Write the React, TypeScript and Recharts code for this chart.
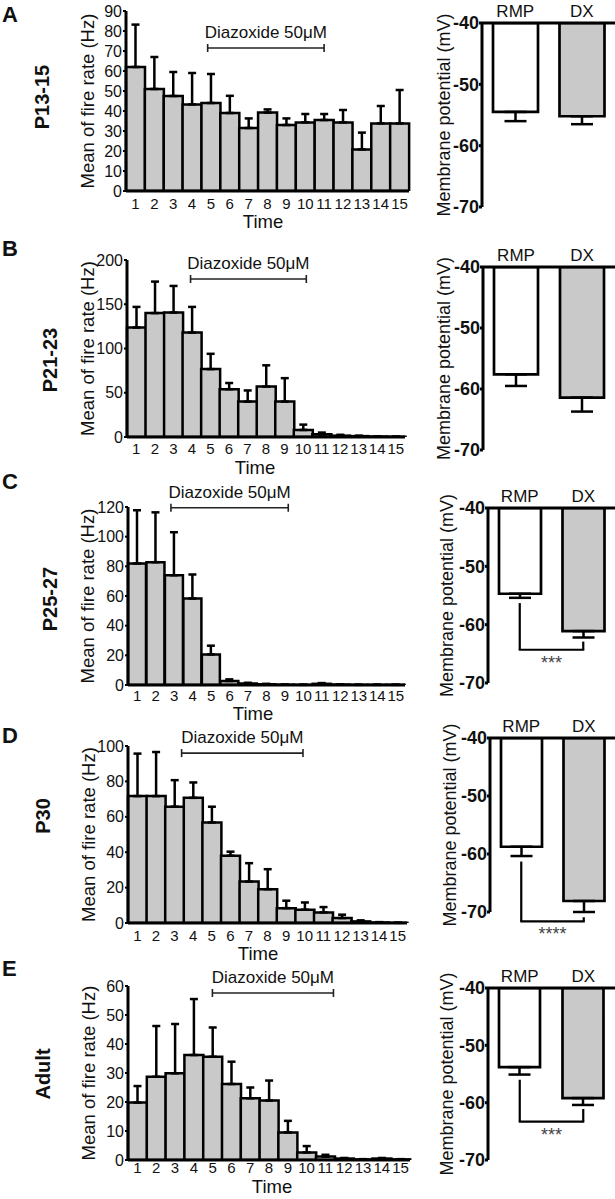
import React from 'react';
import { BarChart, Bar, XAxis, YAxis, ErrorBar, ReferenceLine, Cell } from 'recharts';

// ---------- data ----------
const TIME = ['1', '2', '3', '4', '5', '6', '7', '8', '9', '10', '11', '12', '13', '14', '15'];

const P13_MEAN = [62, 51, 47.5, 43.3, 44, 39, 31.5, 39.2, 33, 34.3, 35.5, 34.3, 20.8, 33.8, 33.8];
const P13_SEM = [21.2, 16, 12, 15.7, 14.5, 8.6, 4.8, 1.6, 3.3, 4.2, 3, 6.2, 8.4, 8.7, 16.7];

const P21_MEAN = [123.7, 140, 140.6, 118, 76.7, 54, 40, 57, 40, 8, 3, 1.5, 1, 0.5, 0.3];
const P21_SEM = [23.3, 35.6, 30.1, 29, 17.3, 7, 12.6, 24, 26.5, 6, 2, 1, 0.5, 0.3, 0.2];

const P25_MEAN = [81.9, 82.8, 74, 58.3, 20.6, 2.7, 1, 0.5, 0.2, 0.1, 0.8, 0.3, 0.1, 0.1, 0.1];
const P25_SEM = [35.9, 33.6, 29, 16.2, 5.9, 1.1, 0.5, 0.3, 0.1, 0.1, 0.5, 0.2, 0.1, 0.1, 0.1];

const P30_MEAN = [71.7, 71.7, 65.7, 70.7, 56.8, 38, 23.4, 19.1, 8.4, 7.5, 6, 2.8, 0.9, 0.3, 0.1];
const P30_SEM = [24, 24.9, 15, 8.7, 8.9, 2.3, 10.4, 11.3, 4.2, 4.1, 3, 1.9, 0.6, 0.2, 0.1];

const ADULT_MEAN = [19.8, 28.7, 29.9, 36.2, 35.6, 26.2, 21.3, 20.5, 9.5, 2.6, 1.2, 0.5, 0.2, 0.5, 0.2];
const ADULT_SEM = [5.7, 17.5, 17, 19.3, 10.1, 7.7, 3.7, 6.9, 4, 2.2, 0.6, 0.2, 0.1, 0.2, 0.1];

const GROUPS = ['RMP', 'DX'];
const P13_MP = [-54.5, -55.2];
const P13_MP_SEM = [1.5, 1.3];
const P21_MP = [-57.6, -61.4];
const P21_MP_SEM = [1.9, 2.3];
const P25_MP = [-54.7, -61.1];
const P25_MP_SEM = [0.7, 1.1];
const P30_MP = [-58.75, -68.1];
const P30_MP_SEM = [1.6, 1.9];
const ADULT_MP = [-53.8, -59.2];
const ADULT_MP_SEM = [1.3, 1.2];

const MP_TICKS = [-70, -60, -50, -40];

const PANEL_LETTERS = ['A', 'B', 'C', 'D', 'E'];
const AGE_LABELS = ['P13-15', 'P21-23', 'P25-27', 'P30', 'Adult'];

const FONT = '"Liberation Sans", Arial, Helvetica, sans-serif';
const GRAY = '#c9c9c9';
const INK = '#111';

const buildFire = (mean: number[], sem: number[]) =>
  TIME.map((t, i) => ({ t, v: mean[i], e: [0, sem[i]] }));
const buildMp = (vals: number[], sems: number[]) =>
  GROUPS.map((g, i) => ({ g, v: vals[i], e: [sems[i], 0] }));

// ---------- layout configs ----------
const FIRE = [
  { plotLeft: 126, plotRight: 409, plotTop: 11, plotBottom: 191, yMax: 90, yTicks: [0, 10, 20, 30, 40, 50, 60, 70, 80, 90], data: buildFire(P13_MEAN, P13_SEM), diaz: [4.04, 9.8, 71.5], tickGap: 7, timeX: 263, timeBase: 228, yLabelX: 87 },
  { plotLeft: 127, plotRight: 405, plotTop: 260, plotBottom: 437, yMax: 200, yTicks: [0, 50, 100, 150, 200], data: buildFire(P21_MEAN, P21_SEM), diaz: [3.2, 9.03, 178.5], tickGap: 6, timeX: 255, timeBase: 474, yLabelX: 87 },
  { plotLeft: 128, plotRight: 405, plotTop: 507, plotBottom: 685, yMax: 120, yTicks: [0, 20, 40, 60, 80, 100, 120], data: buildFire(P25_MEAN, P25_SEM), diaz: [2.17, 8.1, 119.5], tickGap: 5, timeX: 253, timeBase: 720, yLabelX: 87 },
  { plotLeft: 128, plotRight: 407, plotTop: 746, plotBottom: 923, yMax: 100, yTicks: [0, 20, 40, 60, 80, 100], data: buildFire(P30_MEAN, P30_SEM), diaz: [2.69, 8.78, 96], tickGap: 7, timeX: 258, timeBase: 960, yLabelX: 88 },
  { plotLeft: 128, plotRight: 410, plotTop: 986, plotBottom: 1160, yMax: 60, yTicks: [0, 10, 20, 30, 40, 50, 60], data: buildFire(ADULT_MEAN, ADULT_SEM), diaz: [4.19, 10.2, 57.6], tickGap: 2, timeX: 272, timeBase: 1192.5, yLabelX: 88 },
];

const MP = [
  { axisX: 482, plotTop: 23, plotBottom: 207, barSize: 45, data: buildMp(P13_MP, P13_MP_SEM), bracket: null, yLabelX: 444 },
  { axisX: 483, plotTop: 267, plotBottom: 450, barSize: 44, data: buildMp(P21_MP, P21_MP_SEM), bracket: null, yLabelX: 444 },
  { axisX: 488, plotTop: 508, plotBottom: 683, barSize: 42, data: buildMp(P25_MP, P25_MP_SEM), bracket: { rmp: -56.3, dx: -62.9, y: -64.3, text: '***' }, yLabelX: 447 },
  { axisX: 490, plotTop: 738, plotBottom: 912, barSize: 41, data: buildMp(P30_MP, P30_MP_SEM), bracket: { rmp: -61.3, dx: -70.9, y: -71.6, text: '****' }, yLabelX: 450 },
  { axisX: 488, plotTop: 988, plotBottom: 1160, barSize: 41, data: buildMp(ADULT_MP, ADULT_MP_SEM), bracket: { rmp: -56.0, dx: -61.1, y: -63.3, text: '***' }, yLabelX: 447 },
];

const LETTER_POS = [
  { x: 2, y: 22 },
  { x: 2, y: 256 },
  { x: 2, y: 489 },
  { x: 2, y: 743 },
  { x: 2, y: 976 },
];
const AGE_POS = [
  { x: 42, y: 97 },
  { x: 50, y: 360 },
  { x: 50, y: 599 },
  { x: 43, y: 816 },
  { x: 43, y: 1074 },
];

// ---------- shapes ----------
const DiazShape = (props: any) => {
  const { x1, y1, x2 } = props;
  return (
    <g>
      <line x1={x1} y1={y1} x2={x2} y2={y1} stroke="#222" strokeWidth={1.6} />
      <line x1={x1} y1={y1 - 4} x2={x1} y2={y1 + 4} stroke="#222" strokeWidth={1.6} />
      <line x1={x2} y1={y1 - 4} x2={x2} y2={y1 + 4} stroke="#222" strokeWidth={1.6} />
      <text x={(x1 + x2) / 2} y={y1 - 10} textAnchor="middle" fontSize={17} fill={INK}>
        Diazoxide 50μM
      </text>
    </g>
  );
};

const makeBracketShape = (text: string) => (props: any) => {
  const { x1, y1, x2 } = props;
  return (
    <g>
      <line x1={x1 - 1} y1={y1} x2={x2 + 1} y2={y1} stroke="#000" strokeWidth={2.2} />
      <text x={(x1 + x2) / 2} y={y1 + 19} textAnchor="middle" fontSize={18} fill="#444">
        {text}
      </text>
    </g>
  );
};

// ---------- charts ----------
function FireChart({ cfg }: { cfg: any }) {
  const { plotLeft, plotRight, plotTop, plotBottom, yMax, yTicks, data, diaz, tickGap, timeX, timeBase, yLabelX } = cfg;
  const W = 412;
  const chartTop = plotTop - 30;
  const H = plotBottom - plotTop + 70;
  const midY = (plotTop + plotBottom) / 2 - chartTop;
  const TimeLabel = () => (
    <text x={timeX} y={timeBase - chartTop} textAnchor="middle" fontSize={18.5} fill={INK}>
      Time
    </text>
  );
  const YLabel = () => (
    <text
      x={yLabelX}
      y={midY}
      transform={`rotate(-90 ${yLabelX} ${midY})`}
      textAnchor="middle"
      dominantBaseline="central"
      fontSize={18.5}
      fill={INK}
    >
      Mean of fire rate (Hz)
    </text>
  );
  return (
    <div style={{ position: 'absolute', left: 0, top: chartTop, width: W, height: H }}>
      <BarChart
        width={W}
        height={H}
        data={data}
        margin={{ top: 30, right: W - plotRight, bottom: 2, left: 0 }}
        barCategoryGap={0}
        barGap={0}
      >
        <XAxis
          xAxisId="cat"
          dataKey="t"
          type="category"
          height={38}
          interval={0}
          tickLine={false}
          tickSize={1}
          tickMargin={tickGap - 1}
          axisLine={{ stroke: '#000', strokeWidth: 3 }}
          tick={{ fontSize: 15, fill: INK }}
          label={{ content: TimeLabel }}
        />
        <XAxis xAxisId="num" type="number" domain={[0, 15]} allowDataOverflow hide />
        <YAxis
          width={plotLeft}
          type="number"
          domain={[0, yMax]}
          ticks={yTicks}
          interval={0}
          allowDataOverflow
          tickSize={3}
          tickMargin={1}
          axisLine={{ stroke: '#000', strokeWidth: 3 }}
          tickLine={{ stroke: '#000', strokeWidth: 2 }}
          tick={{ fontSize: 16, fill: INK }}
          label={{ content: YLabel }}
        />
        <Bar xAxisId="cat" dataKey="v" fill={GRAY} stroke="#000" strokeWidth={2.5} isAnimationActive={false}>
          <ErrorBar dataKey="e" direction="y" width={4} stroke="#000" strokeWidth={2.5} />
        </Bar>
        <ReferenceLine
          xAxisId="num"
          segment={[
            { x: diaz[0], y: diaz[2] },
            { x: diaz[1], y: diaz[2] },
          ]}
          ifOverflow="visible"
          shape={DiazShape}
        />
      </BarChart>
    </div>
  );
}

function MpChart({ cfg }: { cfg: any }) {
  const { axisX, plotTop, plotBottom, barSize, data, bracket, yLabelX } = cfg;
  const L = 405;
  const W = 210;
  const chartTop = plotTop - 30;
  const H = plotBottom - plotTop + 30 + 36;
  const midY = (plotTop + plotBottom) / 2 - chartTop;
  const lx = yLabelX - L;
  const YLabel = () => (
    <text
      x={lx}
      y={midY}
      transform={`rotate(-90 ${lx} ${midY})`}
      textAnchor="middle"
      dominantBaseline="central"
      fontSize={18}
      fill={INK}
    >
      Membrane potential (mV)
    </text>
  );
  return (
    <div style={{ position: 'absolute', left: L, top: chartTop, width: W, height: H }}>
      <BarChart width={W} height={H} data={data} margin={{ top: 0, right: 0, bottom: 36, left: 0 }}>
        <XAxis
          dataKey="g"
          type="category"
          orientation="top"
          height={30}
          tickLine={false}
          tickSize={3}
          tickMargin={3.5}
          axisLine={{ stroke: '#000', strokeWidth: 3 }}
          tick={{ fontSize: 17, fill: INK }}
        />
        <YAxis
          width={axisX - L}
          type="number"
          domain={[-70, -40]}
          ticks={MP_TICKS}
          interval={0}
          allowDataOverflow
          tickSize={3}
          tickMargin={0}
          axisLine={{ stroke: '#000', strokeWidth: 3 }}
          tickLine={{ stroke: '#000', strokeWidth: 3 }}
          tick={{ fontSize: 18, fontWeight: 'bold', fill: INK }}
          label={{ content: YLabel }}
        />
        <Bar dataKey="v" barSize={barSize} stroke="#000" strokeWidth={2.7} isAnimationActive={false}>
          <Cell fill="#ffffff" />
          <Cell fill={GRAY} />
          <ErrorBar dataKey="e" direction="y" width={11} stroke="#000" strokeWidth={2.5} />
        </Bar>
        {bracket ? (
          <ReferenceLine
            segment={[
              { x: 'RMP', y: bracket.rmp },
              { x: 'RMP', y: bracket.y },
            ]}
            stroke="#000"
            strokeWidth={2.2}
            ifOverflow="visible"
          />
        ) : null}
        {bracket ? (
          <ReferenceLine
            segment={[
              { x: 'DX', y: bracket.dx },
              { x: 'DX', y: bracket.y },
            ]}
            stroke="#000"
            strokeWidth={2.2}
            ifOverflow="visible"
          />
        ) : null}
        {bracket ? (
          <ReferenceLine
            segment={[
              { x: 'RMP', y: bracket.y },
              { x: 'DX', y: bracket.y },
            ]}
            ifOverflow="visible"
            shape={makeBracketShape(bracket.text)}
          />
        ) : null}
      </BarChart>
    </div>
  );
}

export default function App() {
  return (
    <div
      style={{
        position: 'absolute',
        left: 0,
        top: 0,
        width: 615,
        height: 1199,
        background: '#fff',
        fontFamily: FONT,
        overflow: 'hidden',
      }}
    >
      {FIRE.map((cfg, i) => (
        <FireChart key={'f' + i} cfg={cfg} />
      ))}
      {MP.map((cfg, i) => (
        <MpChart key={'m' + i} cfg={cfg} />
      ))}
      <svg
        width={615}
        height={1199}
        style={{ position: 'absolute', left: 0, top: 0, pointerEvents: 'none' }}
      >
        {PANEL_LETTERS.map((l, i) => (
          <text key={l} x={LETTER_POS[i].x} y={LETTER_POS[i].y} fontSize={22} fontWeight="bold" fill={INK}>
            {l}
          </text>
        ))}
        {AGE_LABELS.map((a, i) => (
          <text
            key={a}
            x={AGE_POS[i].x}
            y={AGE_POS[i].y}
            transform={`rotate(-90 ${AGE_POS[i].x} ${AGE_POS[i].y})`}
            textAnchor="middle"
            dominantBaseline="central"
            fontSize={20}
            fontWeight="bold"
            fill={INK}
          >
            {a}
          </text>
        ))}
      </svg>
    </div>
  );
}
